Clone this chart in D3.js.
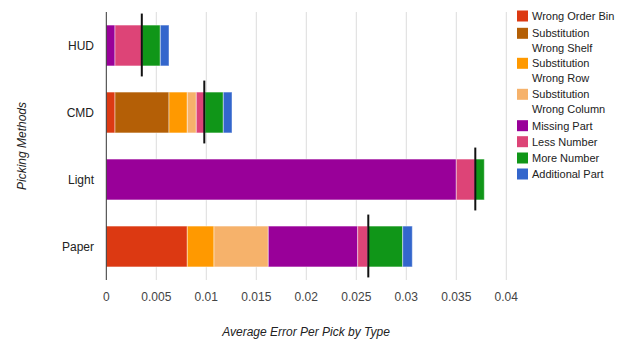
<!DOCTYPE html>
<html><head><meta charset="utf-8">
<script src="https://cdn.jsdelivr.net/npm/d3@7"></script>
<style>body{margin:0;background:#fff}svg{display:block;font-family:"Liberation Sans",Arial,sans-serif}</style>
</head><body>
<svg id="c" width="623" height="343"></svg>
<script>
const methods = ["HUD", "CMD", "Light", "Paper"];
const errorTypes = ["Wrong Order Bin", "Substitution Wrong Shelf", "Substitution Wrong Row", "Substitution Wrong Column", "Missing Part", "Less Number", "More Number", "Additional Part"];
const legendLines = [["Wrong Order Bin"], ["Substitution", "Wrong Shelf"], ["Substitution", "Wrong Row"], ["Substitution", "Wrong Column"], ["Missing Part"], ["Less Number"], ["More Number"], ["Additional Part"]];
const colors = ["#dc3912", "#b45f06", "#ff9900", "#f6b26b", "#990099", "#dd4477", "#109618", "#3366cc"];
const wrongOrderBin   = [0,       0.00087, 0,      0.0081];
const subWrongShelf   = [0,       0.0054,  0,      0];
const subWrongRow     = [0,       0.00183, 0,      0.00267];
const subWrongColumn  = [0,       0.0009,  0,      0.00543];
const missingPart     = [0.00087, 0,       0.0350, 0.00894];
const lessNumber      = [0.0027,  0.00087, 0.0019, 0.00103];
const moreNumber      = [0.00183, 0.00183, 0.0009, 0.00347];
const additionalPart  = [0.00087, 0.00087, 0,      0.00096];
const errorBarAt      = [0.00355, 0.0098,  0.0369, 0.0262];
const xTicks = [0, 0.005, 0.01, 0.015, 0.02, 0.025, 0.03, 0.035, 0.04];
const xTickLabels = ["0", "0.005", "0.01", "0.015", "0.02", "0.025", "0.03", "0.035", "0.04"];

const series = [wrongOrderBin, subWrongShelf, subWrongRow, subWrongColumn, missingPart, lessNumber, moreNumber, additionalPart];
const table = methods.map((m, i) => {
  const o = {method: m};
  errorTypes.forEach((t, j) => o[t] = series[j][i]);
  return o;
});

const svg = d3.select("#c");
const x = d3.scaleLinear().domain([0, 0.04]).range([106.3, 506.3]);
const y = d3.scaleBand().domain(methods).range([12, 280]).paddingInner(0.39).paddingOuter(0.195);

// gridlines
svg.append("g").selectAll("line").data(xTicks.slice(1)).join("line")
  .attr("x1", d => x(d)).attr("x2", d => x(d)).attr("y1", 12).attr("y2", 280)
  .attr("stroke", "#ddd").attr("stroke-width", 1);

// stacked bars
const stack = d3.stack().keys(errorTypes)(table);
svg.append("g").selectAll("g").data(stack).join("g")
  .attr("fill", (d, i) => colors[i])
  .selectAll("rect").data(d => d.filter(s => s[1] - s[0] > 0)).join("rect")
  .attr("x", d => x(d[0])).attr("width", d => x(d[1]) - x(d[0]))
  .attr("y", d => y(d.data.method)).attr("height", y.bandwidth())
  .attr("stroke", "#fff").attr("stroke-opacity", 0.45).attr("stroke-width", 1);

// baseline
svg.append("line").attr("x1", x(0)).attr("x2", x(0)).attr("y1", 12).attr("y2", 280)
  .attr("stroke", "#333").attr("stroke-width", 1);

// error bars
svg.append("g").selectAll("line").data(methods).join("line")
  .attr("x1", (d, i) => x(errorBarAt[i])).attr("x2", (d, i) => x(errorBarAt[i]))
  .attr("y1", d => y(d) - 11.5).attr("y2", d => y(d) + y.bandwidth() + 10.5)
  .attr("stroke", "#111").attr("stroke-width", 2);

// x tick labels
svg.append("g").selectAll("text").data(xTicks).join("text")
  .attr("x", d => x(d)).attr("y", 301).attr("text-anchor", "middle")
  .attr("font-size", 12).attr("fill", "#444").text((d, i) => xTickLabels[i]);

// y labels
svg.append("g").selectAll("text").data(methods).join("text")
  .attr("x", 94).attr("y", d => y(d) + y.bandwidth() / 2 + 4.5).attr("text-anchor", "end")
  .attr("font-size", 12).attr("fill", "#222").text(d => d);

// axis titles
svg.append("text").attr("x", 306).attr("y", 336).attr("text-anchor", "middle")
  .attr("font-size", 12).attr("font-style", "italic").attr("fill", "#222")
  .text("Average Error Per Pick by Type");
svg.append("text").attr("transform", "translate(26,146) rotate(-90)").attr("text-anchor", "middle")
  .attr("font-size", 12).attr("font-style", "italic").attr("fill", "#222")
  .text("Picking Methods");

// legend
const legY = [16, 33.3, 63.3, 94.3, 125.7, 141.7, 158, 174];
const leg = svg.append("g").selectAll("g").data(errorTypes).join("g")
  .attr("transform", (d, i) => `translate(517,${legY[i]})`);
leg.append("rect").attr("x", 0).attr("y", -5.5).attr("width", 11).attr("height", 11)
  .attr("fill", (d, i) => colors[i]);
leg.each(function(d, i) {
  const t = d3.select(this).append("text").attr("x", 15).attr("y", 4)
    .attr("font-size", 11).attr("fill", "#222");
  legendLines[i].forEach((l, k) => t.append("tspan").attr("x", 15).attr("dy", k ? 14.7 : 0).text(l));
});
</script>
</body></html>
